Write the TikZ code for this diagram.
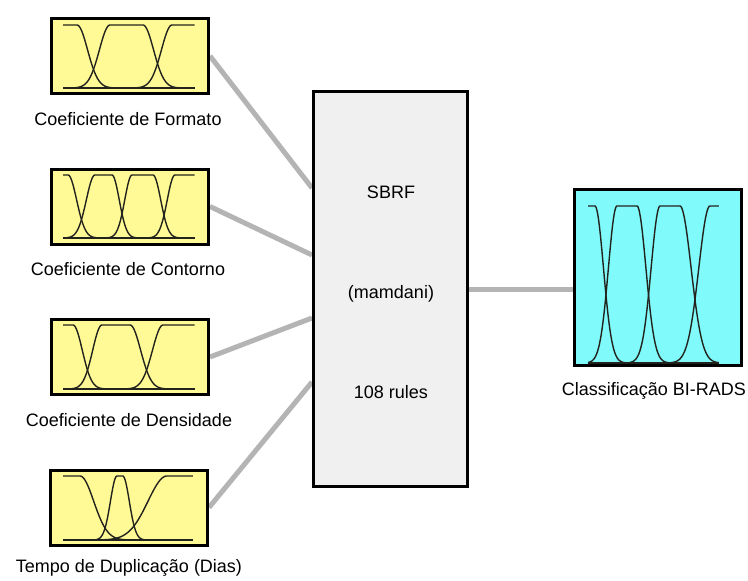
\documentclass[tikz,border=0pt]{standalone}
\usepackage{fontspec}
\setmainfont{Liberation Sans}
\definecolor{inyellow}{RGB}{255,250,150}
\definecolor{outcyan}{RGB}{128,250,250}
\definecolor{midgray}{RGB}{240,240,240}
\definecolor{linkgray}{RGB}{180,180,180}
\definecolor{curve}{RGB}{35,35,30}
\pgfdeclarelayer{bg}
\pgfsetlayers{bg,main}
% gauss2-type membership function: left width, left shoulder, right width, right shoulder
\newcommand\mfplot[4]{\draw[mfline] plot[domain=0:1,samples=150] (\x,{gtwo(\x,#1,#2,#3,#4)});}
\begin{document}
\begin{tikzpicture}[x=1pt,y=-1pt,
  declare function={
    ga(\v)=min(max(\v,0),4);
    gtwo(\u,\wl,\q,\wr,\p)=exp(-0.5*(ga((\q-\u)/\wl)*ga((\q-\u)/\wl)+ga((\u-\p)/\wr)*ga((\u-\p)/\wr)));
  },
  inbox/.style={draw=black, line width=3pt, fill=inyellow, minimum width=157pt, minimum height=75pt, inner sep=0pt},
  outbox/.style={draw=black, line width=3pt, fill=outcyan, minimum width=167pt, minimum height=176pt, inner sep=0pt},
  rulebox/.style={draw=black, line width=3pt, fill=midgray, minimum width=154pt, minimum height=395pt, inner sep=0pt},
  lbl/.style={anchor=base, inner sep=0pt, font=\fontsize{18}{21}\selectfont},
  link/.style={draw=linkgray, line width=5pt},
  mfline/.style={draw=curve, line width=1.4pt},
]
\useasboundingbox (0,0) rectangle (748,581);

% boxes
\node[inbox] (in1) at (130,56) {};
\node[inbox] (in2) at (130,206.5) {};
\node[inbox] (in3) at (130,357) {};
\node[inbox] (in4) at (129,507.5) {};
\node[rulebox] (sbrf) at (390.5,289) {};
\node[outbox] (out) at (658,277.5) {};

% labels
\node[lbl] (l1) at (128,125) {Coeficiente de Formato};
\node[lbl] (l2) at (128,275) {Coeficiente de Contorno};
\node[lbl] (l3) at (129,426) {Coeficiente de Densidade};
\node[lbl] (l4) at (129,572) {Tempo de Duplicação (Dias)};
\node[lbl] (l5) at (654,395) {Classificação BI-RADS};
\node[lbl] (t1) at (391,198) {SBRF};
\node[lbl] (t2) at (391,298) {(mamdani)};
\node[lbl] (t3) at (391,398) {108 rules};

% connectors
\coordinate (s1) at (sbrf.west |- 0,188);
\coordinate (s2) at (sbrf.west |- 0,255);
\coordinate (s3) at (sbrf.west |- 0,318);
\coordinate (s4) at (sbrf.west |- 0,382);
\begin{pgfonlayer}{bg}
\draw[link] (in1.east) -- (s1);
\draw[link] (in2.east) -- (s2);
\draw[link] (in3.east) -- (s3);
\draw[link] (in4.east) -- (s4);
\draw[link] (sbrf.east) -- (sbrf.east -| out.west);
\end{pgfonlayer}

% membership functions: box 1
\begin{scope}[shift={(63,88)}, x=132pt, y=63pt]
\draw[mfline] (0,0) -- (1,0);
\mfplot{0.08}{-1}{0.08}{0.106}
\mfplot{0.08}{0.356}{0.08}{0.606}
\mfplot{0.08}{0.826}{0.08}{2}
\end{scope}

% box 2
\begin{scope}[shift={(63,238)}, x=132pt, y=63pt]
\draw[mfline] (0,0) -- (1,0);
\mfplot{0.065}{-1}{0.065}{0.038}
\mfplot{0.065}{0.242}{0.055}{0.371}
\mfplot{0.055}{0.523}{0.058}{0.682}
\mfplot{0.058}{0.848}{0.058}{2}
\end{scope}

% box 3
\begin{scope}[shift={(63,389)}, x=132pt, y=64pt]
\draw[mfline] (0,0) -- (1,0);
\mfplot{0.07}{-1}{0.07}{0.076}
\mfplot{0.07}{0.295}{0.08}{0.508}
\mfplot{0.08}{0.758}{0.08}{2}
\end{scope}

% box 4
\begin{scope}[shift={(63,540)}, x=130pt, y=64pt]
\draw[mfline] (0,0) -- (1,0);
\mfplot{0.105}{-1}{0.105}{0.131}
\mfplot{0.05}{0.415}{0.05}{0.46}
\mfplot{0.146}{0.8}{0.146}{2}
\end{scope}

% output box
\begin{scope}[shift={(588,363)}, x=131pt, y=157pt]
\draw[mfline] (0,0) -- (1,0);
\mfplot{0.065}{-1}{0.065}{0.053}
\mfplot{0.065}{0.221}{0.068}{0.374}
\mfplot{0.068}{0.55}{0.085}{0.702}
\mfplot{0.085}{0.931}{0.085}{2}
\end{scope}
\end{tikzpicture}
\end{document}
